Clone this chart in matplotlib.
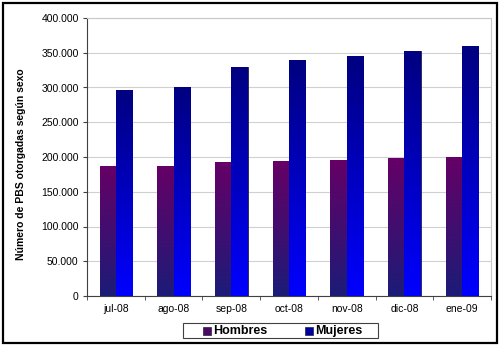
import matplotlib
matplotlib.use("Agg")
import matplotlib.pyplot as plt
import numpy as np
from matplotlib.colors import LinearSegmentedColormap
from matplotlib.patches import Rectangle
from matplotlib.ticker import FuncFormatter, FixedLocator

categories = ["jul-08", "ago-08", "sep-08", "oct-08", "nov-08", "dic-08", "ene-09"]
hombres = [187000, 187000, 193000, 194000, 196000, 199000, 200000]
mujeres = [297000, 301000, 330000, 340000, 345000, 353000, 360000]
series_names = ["Hombres", "Mujeres"]

fig = plt.figure(figsize=(5.0, 3.46), dpi=100)
W, H = 500, 346
ax = fig.add_axes([87 / W, 1 - 296 / H, (491 - 87) / W, (296 - 18) / H])

def fx(px):
    return px / W

def fy(py):
    return 1 - py / H

# outer frame
fig.patches.append(Rectangle((fx(3), fy(343)), 494 / W, 340 / H, transform=fig.transFigure,
                             fill=False, edgecolor="black", linewidth=1.6, zorder=10))

x = np.arange(len(categories))
w = 0.283
b1 = ax.bar(x - w / 2, hombres, w, color="#660066", edgecolor="#222244", linewidth=0.6, zorder=3)
b2 = ax.bar(x + w / 2, mujeres, w, color="#0000cc", edgecolor="#222244", linewidth=0.6, zorder=3)

cm_h = LinearSegmentedColormap.from_list("h", ["#1c1c78", "#660066"])
cm_m = LinearSegmentedColormap.from_list("m", ["#0000ff", "#000080"])
grad = np.linspace(0, 1, 256).reshape(-1, 1)
for bars, cm in ((b1, cm_h), (b2, cm_m)):
    for bar in bars:
        bx, by = bar.get_x(), bar.get_y()
        bw, bh = bar.get_width(), bar.get_height()
        im = ax.imshow(grad, cmap=cm, aspect="auto", origin="lower",
                       extent=(bx, bx + bw, by, by + bh), zorder=3.5)
        im.set_clip_path(bar)

ax.set_xlim(-0.5, len(categories) - 0.5)
ax.set_ylim(0, 400000)
ax.set_yticks(np.arange(0, 400001, 50000))
ax.yaxis.set_major_formatter(FuncFormatter(lambda v, p: "0" if v == 0 else f"{int(v):,}".replace(",", ".")))
ax.grid(axis="y", color="#d0d0d0", linewidth=0.8, zorder=0)
ax.set_axisbelow(True)

ax.set_xticks(x)
ax.set_xticklabels(categories, fontsize=7.5, family="Liberation Sans")
ax.tick_params(axis="x", length=0, pad=6)
ax.xaxis.set_minor_locator(FixedLocator(np.arange(-0.5, len(categories), 1.0)))
ax.tick_params(axis="x", which="minor", length=3, color="#404040")
ax.tick_params(axis="y", labelsize=7.5, length=3, color="#404040", pad=3)
for lab in ax.get_yticklabels():
    lab.set_family("Liberation Sans")

for s in ("top", "right"):
    ax.spines[s].set_color("#c8c8c8")
for s in ("left", "bottom"):
    ax.spines[s].set_color("#404040")

ax.set_ylabel("Número de PBS otorgadas según sexo", fontsize=7.5, fontweight="bold",
              family="Liberation Sans", labelpad=8)
ax.yaxis.set_label_coords(-0.15, 0.475)

# legend (manual, Excel-style)
fig.patches.append(Rectangle((fx(183), fy(338)), 195 / W, 15 / H, transform=fig.transFigure,
                             facecolor="white", edgecolor="#404040", linewidth=0.8, zorder=5))
leg_colors = ["#4a0a5e", "#0000a0"]
sq_x = [203, 305]
for name, col, sx in zip(series_names, leg_colors, sq_x):
    fig.patches.append(Rectangle((fx(sx), fy(334.5)), 7.5 / W, 7.5 / H, transform=fig.transFigure,
                                 facecolor=col, edgecolor="#222244", linewidth=0.5, zorder=6))
    fig.text(fx(sx + 10), fy(330.8), name, fontsize=9, fontweight="bold", family="Liberation Sans",
             ha="left", va="center", zorder=7)

fig.savefig("out.png", dpi=100)
